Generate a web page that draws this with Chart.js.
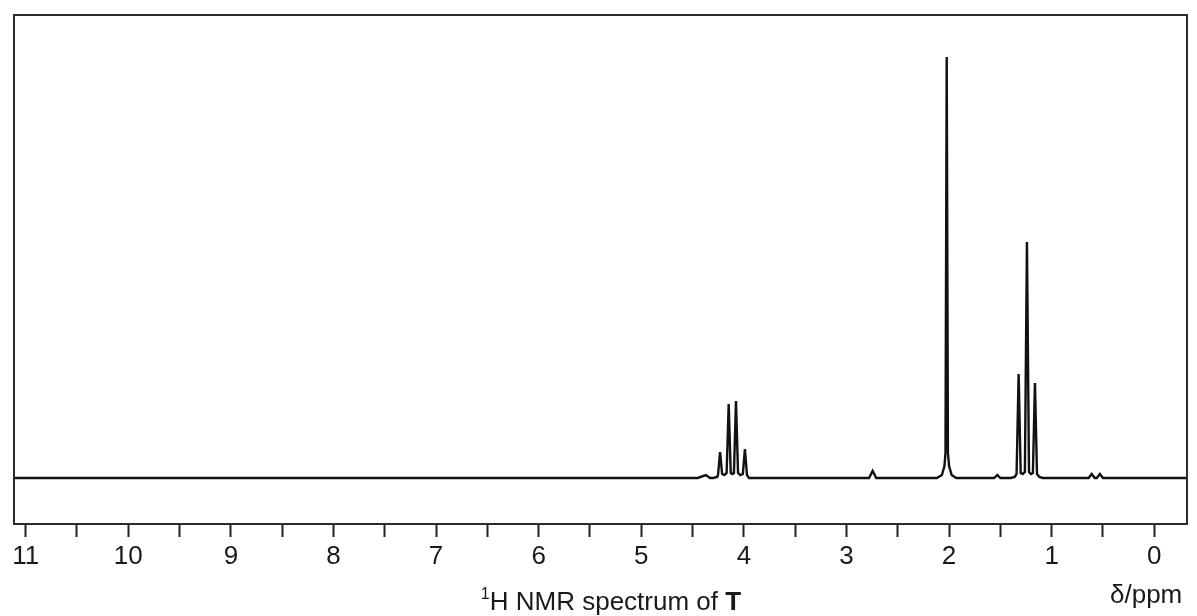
<!DOCTYPE html>
<html>
<head>
<meta charset="utf-8">
<script src="https://cdn.jsdelivr.net/npm/chart.js@4"></script>
<style>
  html, body { margin: 0; padding: 0; background: #fff; }
  #wrap { width: 1197px; height: 616px; }
</style>
</head>
<body>
<div id="wrap"><canvas id="nmrChart" width="1197" height="616"></canvas></div>
<script>
// chemical shift (ppm) and signal height
const shifts = [
  11.3, 4.45, 4.37, 4.33, 4.30, 4.26, 4.252, 4.232, 4.212, 4.19, 4.168, 4.148, 4.128, 4.112,
  4.097, 4.077, 4.057, 4.035, 4.01, 3.99, 3.97, 3.95,
  2.78, 2.745, 2.71,
  2.12, 2.07, 2.045, 2.035, 2.023, 2.011, 2.00, 1.975, 1.93,
  1.56, 1.53, 1.50,
  1.40, 1.36, 1.342, 1.322, 1.302, 1.282, 1.261, 1.241, 1.221, 1.202, 1.183, 1.163, 1.143, 1.12, 1.09,
  0.64, 0.61, 0.58, 0.56, 0.53, 0.50, -0.5
];
const intensity = [
  0, 0, 3, 0, 0, 1, 3, 26, 4, 3, 5, 74, 5, 4,
  5, 77, 5, 3, 4, 29, 3, 0,
  0, 7, 0,
  0, 3, 12, 25, 421, 25, 12, 3, 0,
  0, 3, 0,
  0, 1, 4, 104, 5, 4, 6, 236, 6, 4, 5, 95, 4, 1, 0,
  0, 4, 0, 0, 4, 0, 0
];
const tickValues = [11, 10.5, 10, 9.5, 9, 8.5, 8, 7.5, 7, 6.5, 6, 5.5, 5, 4.5, 4, 3.5, 3, 2.5, 2, 1.5, 1, 0.5, 0];

const frame = {
  id: 'frame',
  afterDraw(chart) {
    const { ctx, chartArea: a } = chart;
    ctx.save();
    ctx.strokeStyle = '#2b2b2b';
    ctx.lineWidth = 2;
    ctx.strokeRect(a.left, a.top, a.right - a.left, a.bottom - a.top);

    // axis caption with superscript and bold T
    const big = '26px "Liberation Sans", Arial, sans-serif';
    const sup = '16px "Liberation Sans", Arial, sans-serif';
    const bold = 'bold 26px "Liberation Sans", Arial, sans-serif';
    const parts = [
      { t: '1', f: sup, dy: -11 },
      { t: 'H NMR spectrum of ', f: big, dy: 0 },
      { t: 'T', f: bold, dy: 0 }
    ];
    let total = 0;
    parts.forEach(p => { ctx.font = p.f; p.w = ctx.measureText(p.t).width; total += p.w; });
    let x = 611 - total / 2;
    const base = 610;
    ctx.fillStyle = '#1a1a1a';
    ctx.textBaseline = 'alphabetic';
    ctx.textAlign = 'left';
    parts.forEach(p => { ctx.font = p.f; ctx.fillText(p.t, x, base + p.dy); x += p.w; });

    ctx.font = big;
    ctx.fillText('δ/ppm', 1110, 603);
    ctx.restore();
  }
};

const ctx = document.getElementById('nmrChart').getContext('2d');
new Chart(ctx, {
  type: 'line',
  data: {
    datasets: [{
      data: shifts.map((s, i) => ({ x: s, y: intensity[i] })),
      borderColor: '#111',
      borderWidth: 2.4,
      pointRadius: 0,
      tension: 0,
      fill: false
    }]
  },
  options: {
    responsive: false,
    animation: false,
    layout: { padding: { left: 14, right: 10, top: 15, bottom: 0 } },
    plugins: { legend: { display: false }, tooltip: { enabled: false } },
    scales: {
      x: {
        type: 'linear',
        reverse: true,
        bounds: 'data',
        min: -0.319,
        max: 11.114,
        afterBuildTicks: s => { s.ticks = tickValues.map(v => ({ value: v })); },
        afterFit: s => { s.height = 92; },
        border: { display: false },
        grid: {
          drawOnChartArea: false,
          drawTicks: true,
          tickLength: 13,
          tickColor: '#222',
          tickWidth: 2
        },
        ticks: {
          autoSkip: false,
          maxRotation: 0,
          padding: 4,
          color: '#1a1a1a',
          font: { family: '"Liberation Sans", Arial, sans-serif', size: 26 },
          callback: v => Number.isInteger(v) ? String(v) : ''
        }
      },
      y: {
        display: false,
        min: -46,
        max: 463
      }
    }
  },
  plugins: [frame]
});
</script>
</body>
</html>
